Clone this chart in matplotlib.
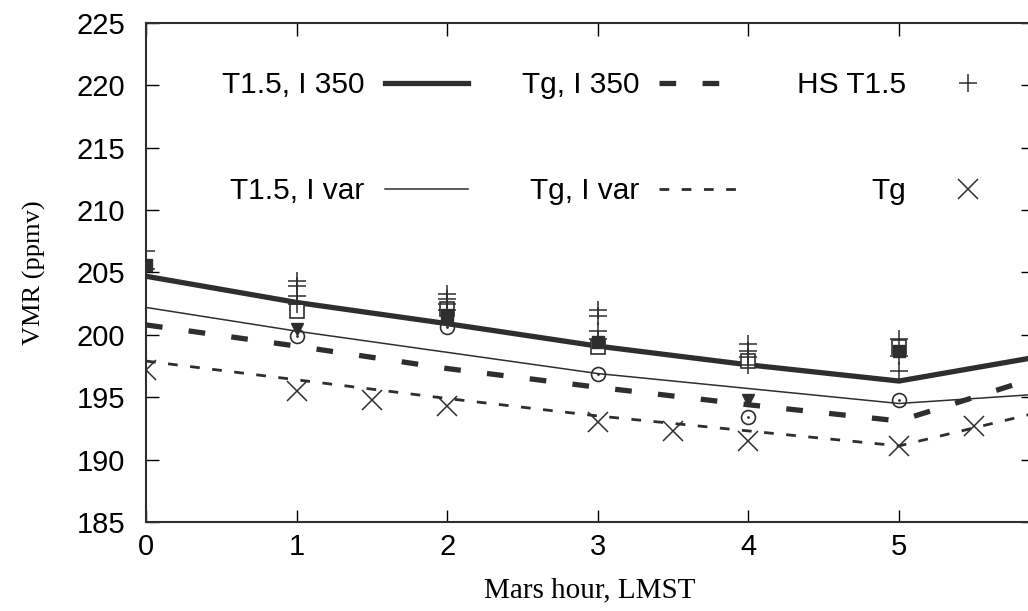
import matplotlib
matplotlib.use('Agg')
from matplotlib import pyplot as plt

plt.rcParams['font.family'] = ['Liberation Sans', 'DejaVu Sans']
plt.rcParams['lines.scale_dashes'] = False

# model curves, one value per Mars hour
hours = [0, 1, 2, 3, 4, 5, 6]
t15_i350 = [204.7, 202.6, 200.9, 199.1, 197.6, 196.3, 198.4]
t15_ivar = [202.2, 200.3, 198.6, 196.9, 195.7, 194.5, 195.3]
tg_i350 = [200.8, 199.1, 197.3, 195.8, 194.4, 193.1, 196.9]
tg_ivar = [197.9, 196.4, 194.9, 193.5, 192.3, 191.1, 194.0]

# HS T1.5 points (+)
hs_x = [0, 0, 1, 1, 1, 1, 2, 2, 2, 2, 3, 3, 3, 3, 4, 4, 4, 4, 5, 5, 5]
hs_y = [206.7, 205.3, 204.3, 203.9, 203.1, 202.5, 203.3, 202.9, 202.5, 202.0,
        202.0, 201.5, 200.3, 199.7, 199.3, 198.7, 198.2, 197.6, 199.7, 198.3, 197.1]

# Tg points (x)
tg_x = [0, 1, 1.5, 2, 3, 3.5, 4, 5, 5.5]
tg_y = [197.2, 195.5, 194.8, 194.3, 193.0, 192.3, 191.5, 191.1, 192.7]

# other unlabeled point sets
sq_x = [1, 2, 3, 4, 5]
sq_y = [201.9, 202.1, 199.0, 197.9, 199.0]
fsq_x = [0, 2, 3, 5]
fsq_y = [205.6, 201.6, 199.4, 198.7]
tri_x = [1, 2, 4]
tri_y = [200.5, 201.2, 194.8]
circ_x = [1, 2, 3, 4, 5]
circ_y = [199.9, 200.6, 196.9, 193.4, 194.8]

c = '#2e2e2e'
fig = plt.figure(figsize=(10.28, 6.11), dpi=100)
ax = fig.add_axes([146/1028, 89/611, (1033-146)/1028, (522-23)/611])

l1, = ax.plot(hours, t15_i350, color=c, lw=3.8, label='T1.5, I 350')
l2, = ax.plot(hours, t15_ivar, color=c, lw=1.1, label='T1.5, I var')
l3, = ax.plot(hours, tg_i350, color=c, lw=3.8, dashes=(12, 19), label='Tg, I 350')
l4, = ax.plot(hours, tg_ivar, color=c, lw=2.0, dashes=(7, 9), label='Tg, I var')

ax.plot(sq_x, sq_y, 's', ms=10, mfc='white', mec=c, mew=1.2)
ax.plot(fsq_x, fsq_y, 's', ms=9, color=c)
ax.plot(tri_x, tri_y, 'v', ms=9, color=c)
ax.plot(circ_x, circ_y, 'o', ms=10, mfc='none', mec=c, mew=1.2)
ax.plot(circ_x, circ_y, '.', ms=2, color=c)
hs, = ax.plot(hs_x, hs_y, '+', ms=13, mew=1.1, color=c, label='HS T1.5')
tg, = ax.plot(tg_x, tg_y, 'x', ms=14, mew=1.1, color=c, label='Tg')

ax.set_xlim(0, 5.89)
ax.set_ylim(185, 225)
ax.set_xticks([0, 1, 2, 3, 4, 5])
ax.set_yticks(range(185, 226, 5))
ax.tick_params(direction='in', length=9, width=1, top=True, right=True, labelsize=21)
ax.tick_params(axis='x', pad=8)
ax.tick_params(axis='y', pad=15)
for s in ax.spines.values():
    s.set_linewidth(1.5)
    s.set_color(c)

ax.set_xlabel('Mars hour, LMST', fontfamily='Liberation Serif', fontsize=21, labelpad=12)
ax.set_ylabel('VMR (ppmv)', fontfamily='Liberation Serif', fontsize=19, labelpad=22)

handles = [l1, l2, l3, l4, hs, tg]
ax.legend(handles, [h.get_label() for h in handles], ncol=3, loc='upper left',
          bbox_to_anchor=(0.0857, 0.903), frameon=False, markerfirst=False,
          handlelength=2.8, handletextpad=0.67, columnspacing=1.8, labelspacing=2.6,
          fontsize=21.5, borderpad=0, borderaxespad=0, numpoints=1)

fig.savefig('out.png', dpi=100)
